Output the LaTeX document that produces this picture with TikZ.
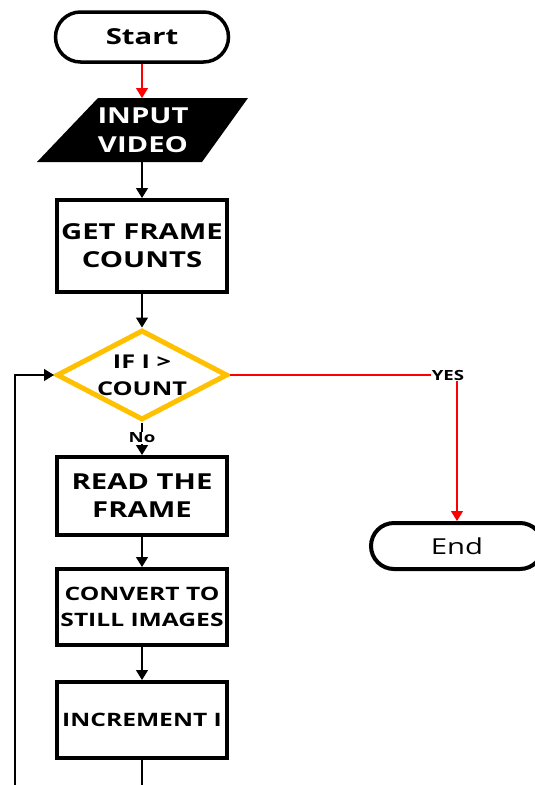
\documentclass[tikz,border=0pt]{standalone}
\usepackage{fontspec}
\setmainfont{Open Sans}[FakeStretch=1.33]
\usetikzlibrary{shapes.geometric,shapes.misc,arrows.meta}
\definecolor{gold}{HTML}{FFC000}
\tikzset{
  term/.style={draw=black,line width=3.5pt,rounded rectangle,minimum width=173pt,minimum height=50pt,inner sep=0pt,font=\fontsize{22}{23}\selectfont\bfseries},
  procbox/.style={draw=black,line width=4pt,minimum width=170pt,inner sep=0pt,align=center,font=\fontsize{22}{28}\selectfont\bfseries},
  arr/.style={-{Triangle[length=10pt,width=12pt]},line width=1.3pt},
  redarr/.style={arr,draw=red,fill=red},
  lbl/.style={font=\fontsize{14}{15}\selectfont\bfseries,inner sep=1pt},
}
\begin{document}
\begin{tikzpicture}[x=1pt,y=-1pt]
\useasboundingbox (0,0) rectangle (535,785);
\node[term] (start) at (142,37) {Start};
\path[fill=black] (98,98) -- (248,98) -- (202,162) -- (37,162) -- cycle;
\node[inner sep=0pt,align=center,text=white,font=\fontsize{22}{29}\selectfont\bfseries] (input) at (143,130) {INPUT\\VIDEO};
\coordinate (inTop) at (142,98);
\coordinate (inBot) at (142,162);
\node[procbox,minimum height=92pt] (get) at (142,246) {GET FRAME\\COUNTS};
\node[draw=gold,line width=5pt,diamond,aspect=1.9,minimum width=171pt,minimum height=90pt,inner sep=0pt,align=center,font=\fontsize{19}{27}\selectfont\bfseries] (dec) at (142,375) {IF I >\\COUNT};
\node[lbl] (no) at (142,438) {No};
\node[procbox,minimum height=78pt] (read) at (142,496) {READ THE\\FRAME};
\node[procbox,minimum height=76pt,font=\fontsize{18.5}{26}\selectfont\bfseries] (conv) at (142,607) {CONVERT TO\\STILL IMAGES};
\node[procbox,minimum height=76pt,font=\fontsize{18.5}{26}\selectfont\bfseries] (inc) at (142,720) {INCREMENT I};
\node[term,line width=4pt,minimum width=172pt,minimum height=46pt,font=\fontsize{22}{23}\selectfont] (end) at (457,546) {End};
\node[lbl] (yes) at (448,375) {YES};
\coordinate (botA) at (142,786);
\coordinate (botB) at (15,786);
\coordinate (loopL) at (15,375);
\draw[redarr] (start.south) -- (inTop);
\draw[arr] (inBot) -- (get.north);
\draw[arr] (get.south) -- (dec.north);
\draw[line width=1.3pt] (dec.south) -- (no.north);
\draw[arr] (no.south) -- (read.north);
\draw[arr] (read.south) -- (conv.north);
\draw[arr] (conv.south) -- (inc.north);
\draw[line width=1.3pt] (inc.south) -- (botA);
\draw[arr] (botB) -- (loopL) -- (dec.west);
\draw[red,line width=1.3pt] (dec.east) -- (yes.west);
\draw[redarr] (yes.south -| end.north) -- (end.north);
\end{tikzpicture}
\end{document}
